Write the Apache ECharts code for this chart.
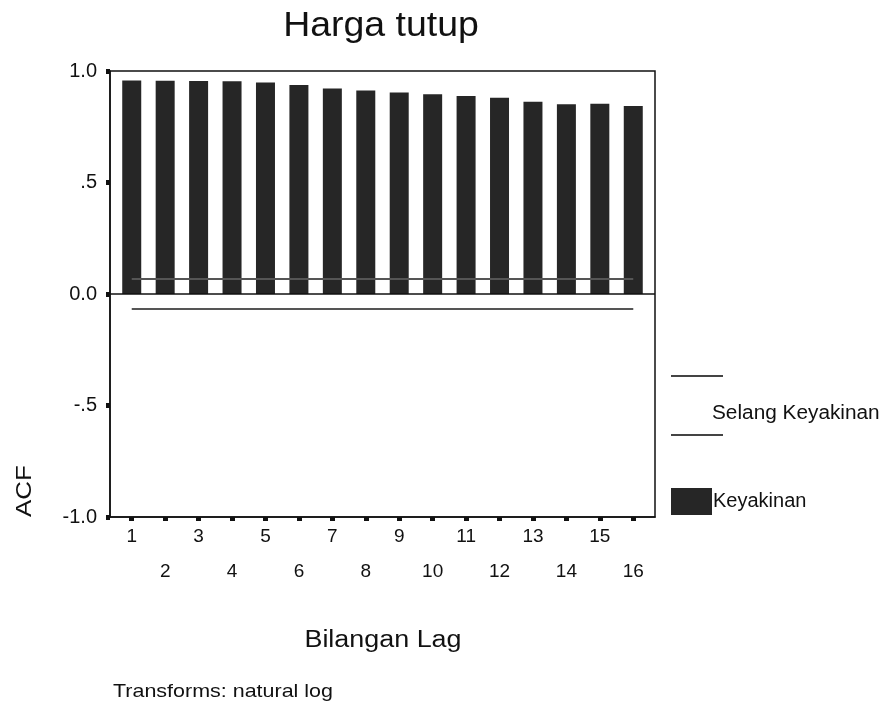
<!DOCTYPE html>
<html>
<head>
<meta charset="utf-8">
<script src="https://cdn.jsdelivr.net/npm/echarts@6/dist/echarts.min.js"></script>
<style>html,body{margin:0;padding:0;background:#fff}#c{width:887px;height:706px}</style>
</head>
<body>
<div id="c"></div>
<script>
var lags = [1,2,3,4,5,6,7,8,9,10,11,12,13,14,15,16];
var acf = [0.957,0.956,0.955,0.954,0.948,0.937,0.922,0.913,0.904,0.896,0.888,0.880,0.862,0.851,0.853,0.843];
var upperCL = [0.067,0.067,0.067,0.067,0.067,0.067,0.067,0.067,0.067,0.067,0.067,0.067,0.067,0.067,0.067,0.067];
var lowerCL = [-0.067,-0.067,-0.067,-0.067,-0.067,-0.067,-0.067,-0.067,-0.067,-0.067,-0.067,-0.067,-0.067,-0.067,-0.067,-0.067];
var yTicks = [-1, -0.5, 0, 0.5, 1];
var yTickLabels = ['-1.0', '-.5', '0.0', '.5', '1.0'];

var FONT = '"Liberation Sans", Arial, sans-serif';
var chart = echarts.init(document.getElementById('c'), null, {renderer: 'canvas'});
function pairs(vals){ return lags.map(function(l,i){ return [l, vals[i]]; }); }

chart.setOption({
  animation: false,
  backgroundColor: '#fff',
  textStyle: {fontFamily: FONT},
  grid: {left: 110, right: 232, top: 71, bottom: 189, show: true, borderColor: '#111', borderWidth: 1.5},
  legend: {
    data: [{name: 'Keyakinan', icon: 'rect'}],
    left: 671, top: 488, padding: 0, itemWidth: 41, itemHeight: 27, itemGap: 0,
    textStyle: {fontFamily: FONT, fontSize: 20, color: '#111', padding: [8,0,0,-4]},
    selectedMode: false
  },
  xAxis: {
    type: 'value', min: 0.35, max: 16.65,
    splitLine: {show: false},
    axisLine: {show: true, onZero: false, lineStyle: {color: '#111', width: 1.5}},
    axisTick: {show: true, customValues: lags, length: 4, inside: false, lineStyle: {color: '#111', width: 5}},
    axisLabel: {
      customValues: lags, margin: 2, fontFamily: FONT, fontSize: 19, color: '#111', lineHeight: 35,
      verticalAlign: 'top',
      formatter: function(v){ return (v % 2 === 0) ? '\n' + v : String(v); }
    }
  },
  yAxis: {
    type: 'value', min: -1, max: 1, interval: 0.5,
    splitLine: {show: false},
    axisLine: {show: true, onZero: false, lineStyle: {color: '#111', width: 1.5}},
    axisTick: {show: true, length: 4, lineStyle: {color: '#111', width: 5}},
    axisLabel: {
      margin: 13, fontFamily: FONT, fontSize: 20, color: '#111',
      formatter: function(v){ var i = yTicks.indexOf(v); return i >= 0 ? yTickLabels[i] : ''; }
    }
  },
  series: [
    {
      name: 'Keyakinan', type: 'bar', data: pairs(acf), barWidth: 19,
      itemStyle: {color: '#262626'},
      markLine: {
        silent: true, symbol: 'none', label: {show: false},
        lineStyle: {color: '#111', width: 1.5, type: 'solid'},
        data: [{yAxis: 0}]
      },
      z: 2
    },
    {
      name: 'Upper', type: 'line', data: pairs(upperCL), showSymbol: false, symbol: 'none',
      lineStyle: {color: '#555', width: 2}, z: 3
    },
    {
      name: 'Lower', type: 'line', data: pairs(lowerCL), showSymbol: false, symbol: 'none',
      lineStyle: {color: '#555', width: 2}, z: 3
    }
  ],
  graphic: [
    {type: 'text', x: 381, y: 26, scaleX: 1.07,
     style: {text: 'Harga tutup', fill: '#111', font: '35px ' + FONT, align: 'center', verticalAlign: 'middle'}},
    {type: 'text', x: 383, y: 641, scaleX: 1.17,
     style: {text: 'Bilangan Lag', fill: '#111', font: '23px ' + FONT, align: 'center', verticalAlign: 'middle'}},
    {type: 'text', x: 113, y: 692, scaleX: 1.13,
     style: {text: 'Transforms: natural log', fill: '#111', font: '19px ' + FONT, align: 'left', verticalAlign: 'middle'}},
    {type: 'text', x: 25, y: 491, rotation: Math.PI/2, scaleX: 1.18,
     style: {text: 'ACF', fill: '#111', font: '22px ' + FONT, align: 'center', verticalAlign: 'middle'}},
    {type: 'line', shape: {x1: 671, y1: 376, x2: 723, y2: 376}, style: {stroke: '#444', lineWidth: 2}},
    {type: 'line', shape: {x1: 671, y1: 435, x2: 723, y2: 435}, style: {stroke: '#444', lineWidth: 2}},
    {type: 'text', x: 712, y: 413, scaleX: 1.04,
     style: {text: 'Selang Keyakinan', fill: '#111', font: '20px ' + FONT, align: 'left', verticalAlign: 'middle'}}
  ]
});
</script>
</body>
</html>
